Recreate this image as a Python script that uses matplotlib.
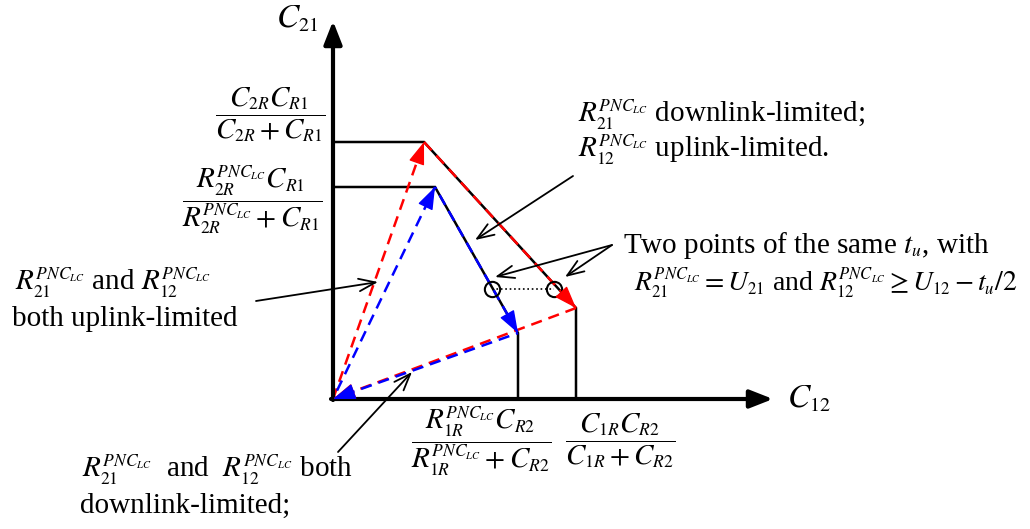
import matplotlib
matplotlib.use("Agg")
from matplotlib import pyplot as plt
import matplotlib._mathtext as mathtext_internals

plt.rcParams["font.family"] = ["Liberation Serif", "DejaVu Serif"]
plt.rcParams["mathtext.fontset"] = "stix"
# smaller sub/superscripts, closer to Word equation layout
mathtext_internals.SHRINK_FACTOR = 0.6

# rate region corners (C12, C21), origin at the axes crossing
outer_c12 = [0, 91, 243, 243]
outer_c21 = [257, 257, 91, 0]
inner_c12 = [0, 102, 185, 185]
inner_c21 = [212, 212, 66, 0]

# PNC paths: origin -> top corner -> lower corner -> origin
red_c12 = [0, 91, 243, 0]
red_c21 = [0, 257, 91, 0]
blue_c12 = [0, 102, 185, 0]
blue_c21 = [0, 212, 66, 0]

# two points of the same t_u
tu_c12 = [159, 221]
tu_c21 = [110, 110]

axis_end = (440, 378)

R21 = r"$R_{21}^{PNC_{LC}}$"
R12 = r"$R_{12}^{PNC_{LC}}$"

fig = plt.figure(figsize=(10.3, 5.29), dpi=100)
ax = fig.add_axes([0, 0, 1, 1])
ax.set_xlim(-333, 697)
ax.set_ylim(-130, 399)
ax.axis("off")

# axes with arrow heads
head = "-|>,head_length=1.4,head_width=0.55"
ax.annotate("", xy=(0, axis_end[1]), xytext=(0, -1),
            arrowprops=dict(arrowstyle=head, lw=3, color="black", shrinkA=0, shrinkB=0))
ax.annotate("", xy=(axis_end[0], 0), xytext=(-2, 0),
            arrowprops=dict(arrowstyle=head, lw=3, color="black", shrinkA=0, shrinkB=0))

# region boundaries
ax.plot(outer_c12, outer_c21, color="black", lw=1.8, solid_joinstyle="miter")
ax.plot(inner_c12, inner_c21, color="black", lw=1.8, solid_joinstyle="miter")


def dashed_path(xs, ys, color, offset):
    for i in range(len(xs) - 1):
        x0, y0, x1, y1 = xs[i], ys[i], xs[i + 1], ys[i + 1]
        ax.plot([x0, x1], [y0, y1], color=color, lw=1.8, ls=(offset, (4.5, 2.8)))
        ax.annotate("", xy=(x1, y1), xytext=(x0 + 0.97 * (x1 - x0), y0 + 0.97 * (y1 - y0)),
                    arrowprops=dict(arrowstyle="-|>,head_length=1.4,head_width=0.5",
                                    color=color, lw=1, shrinkA=0, shrinkB=0))


dashed_path(red_c12, red_c21, "red", 0)
dashed_path(blue_c12, blue_c21, "blue", 3.6)

# points of the same t_u
ax.plot(tu_c12, tu_c21, color="black", lw=1.2, ls=":")
ax.plot(tu_c12, tu_c21, "o", mfc="none", mec="black", ms=11, mew=1.5)

# pointer arrows
pointer = dict(arrowstyle="->,head_length=1.2,head_width=0.45", lw=1.3, color="black",
               shrinkA=0, shrinkB=0)
ax.annotate("", xy=(142, 159), xytext=(240, 223), arrowprops=pointer)
ax.annotate("", xy=(162, 122), xytext=(279, 154), arrowprops=pointer)
ax.annotate("", xy=(232, 122), xytext=(279, 154), arrowprops=pointer)
ax.annotate("", xy=(45, 117), xytext=(-77, 98), arrowprops=pointer)
ax.annotate("", xy=(79, 27), xytext=(5, -53), arrowprops=pointer)

# axis labels
ax.text(-57, 372, r"$C_{21}$", fontsize=24, ha="left", va="baseline")
ax.text(454, -8, r"$C_{12}$", fontsize=24, ha="left", va="baseline")

# corner values
fs = 21
ax.text(-63, 284, r"$\dfrac{C_{2R}C_{R1}}{C_{2R}+C_{R1}}$", fontsize=fs, ha="center", va="center")
ax.text(-81, 199, r"$\dfrac{R_{2R}^{PNC_{LC}}C_{R1}}{R_{2R}^{PNC_{LC}}+C_{R1}}$",
        fontsize=fs, ha="center", va="center")
ax.text(148, -42, r"$\dfrac{R_{1R}^{PNC_{LC}}C_{R2}}{R_{1R}^{PNC_{LC}}+C_{R2}}$",
        fontsize=fs, ha="center", va="center")
ax.text(287, -42, r"$\dfrac{C_{1R}C_{R2}}{C_{1R}+C_{R2}}$", fontsize=fs, ha="center", va="center")

# annotations
ax.text(245, 277, R21 + " downlink-limited;", fontsize=fs, va="baseline")
ax.text(245, 242, R12 + " uplink-limited.", fontsize=fs, va="baseline")
ax.text(290, 146, r"Two points of the same $t_u$, with", fontsize=fs, va="baseline")
ax.text(301, 108, r"$R_{21}^{PNC_{LC}}=U_{21}$ and $R_{12}^{PNC_{LC}}\geq U_{12}-t_u/2$",
        fontsize=20, va="baseline")
ax.text(-318, 109, R21 + " and " + R12, fontsize=fs, va="baseline")
ax.text(-321, 73, "both uplink-limited", fontsize=fs, va="baseline")
ax.text(-251, -78, R21 + "  and  " + R12 + " both", fontsize=fs, va="baseline")
ax.text(-253, -114, "downlink-limited;", fontsize=fs, va="baseline")

fig.savefig("out.png", dpi=100, facecolor="white")
